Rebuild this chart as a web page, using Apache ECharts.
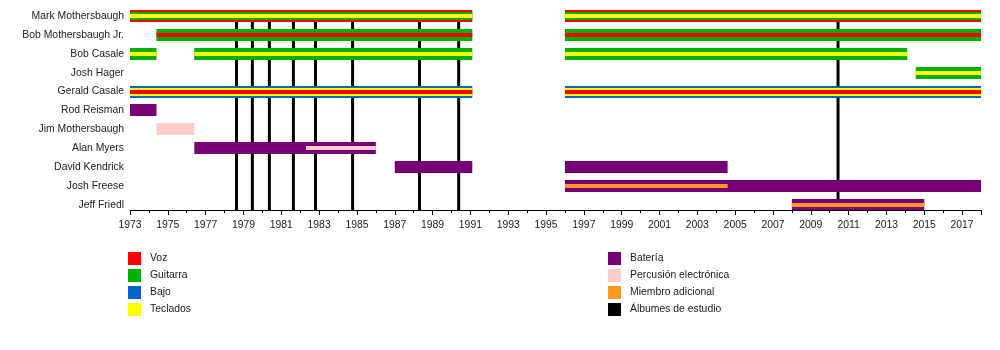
<!DOCTYPE html>
<html><head><meta charset="utf-8">
<script src="https://cdn.jsdelivr.net/npm/echarts@6/dist/echarts.min.js"></script>
<style>html,body{margin:0;padding:0;background:#fff}#c{width:1000px;height:350px}</style>
</head><body><div id="c"></div>
<script>
const members = ['Mark Mothersbaugh','Bob Mothersbaugh Jr.','Bob Casale','Josh Hager','Gerald Casale','Rod Reisman','Jim Mothersbaugh','Alan Myers','David Kendrick','Josh Freese','Jeff Friedl'];
const yearStart = 1973, yearEnd = 2018;
// [member, from, to, layer]  layer: 0 = main role, 1 = second, 2 = third
const voz = [
  ['Mark Mothersbaugh',1973,1991.1,0],['Mark Mothersbaugh',1996,2018,0],
  ['Bob Mothersbaugh Jr.',1974.4,1991.1,2],['Bob Mothersbaugh Jr.',1996,2018,2],
  ['Gerald Casale',1973,1991.1,2],['Gerald Casale',1996,2018,2]];
const guitarra = [
  ['Mark Mothersbaugh',1973,1991.1,1],['Mark Mothersbaugh',1996,2018,1],
  ['Bob Mothersbaugh Jr.',1974.4,1991.1,0],['Bob Mothersbaugh Jr.',1996,2018,0],
  ['Bob Casale',1973,1974.4,0],['Bob Casale',1976.4,1991.1,0],['Bob Casale',1996,2014.1,0],
  ['Josh Hager',2014.55,2018,0]];
const bajo = [['Gerald Casale',1973,1991.1,0],['Gerald Casale',1996,2018,0]];
const teclados = [
  ['Mark Mothersbaugh',1973,1991.1,2],['Mark Mothersbaugh',1996,2018,2],
  ['Bob Casale',1973,1974.4,2],['Bob Casale',1976.4,1991.1,2],['Bob Casale',1996,2014.1,2],
  ['Josh Hager',2014.55,2018,2],
  ['Gerald Casale',1973,1991.1,1],['Gerald Casale',1996,2018,1]];
const bateria = [
  ['Rod Reisman',1973,1974.4,0],['Alan Myers',1976.4,1986,0],
  ['David Kendrick',1987,1991.1,0],['David Kendrick',1996,2004.6,0],
  ['Josh Freese',1996,2018,0],['Jeff Friedl',2008,2015,0]];
const percusion = [['Jim Mothersbaugh',1974.4,1976.4,0],['Alan Myers',1982.3,1986,2]];
const adicional = [['Josh Freese',1996,2004.6,2],['Jeff Friedl',2008,2015,2]];
const albumes = [1978.63,1979.47,1980.37,1981.64,1982.81,1984.77,1988.31,1990.38,2010.44];

const roles = [
  {name:'Voz', data:voz, color:'#ff0000'},
  {name:'Guitarra', data:guitarra, color:'#00b000'},
  {name:'Bajo', data:bajo, color:'#0066cc'},
  {name:'Teclados', data:teclados, color:'#ffff00'},
  {name:'Batería', data:bateria, color:'#770077'},
  {name:'Percusión electrónica', data:percusion, color:'#ffcccc'},
  {name:'Miembro adicional', data:adicional, color:'#ff9922'}
];
const layerHeight = [12, 8, 4];
const yMax = 10.265;
const FONT = "'Liberation Sans', Arial, sans-serif";
const TXT = '#222';

function renderBar(params, api) {
  const row = api.value(0), x0 = api.value(1), x1 = api.value(2), layer = api.value(3);
  const p0 = api.coord([x0, row]);
  const p1 = api.coord([x1, row]);
  const h = layerHeight[layer];
  const cy = Math.round(p0[1]);
  return {type:'rect', z2: 10 + layer*10,
    shape:{x:p0[0], y:cy - h/2, width:p1[0]-p0[0], height:h},
    style:{fill: api.visual('color')}};
}
function renderAlbum(params, api) {
  const x = api.value(0);
  const p0 = api.coord([x, 0]);
  const p1 = api.coord([x, yMax]);
  return {type:'rect', z2: 0,
    shape:{x:p0[0]-1.5, y:p0[1], width:3, height:p1[1]-p0[1]},
    style:{fill: api.visual('color')}};
}

const series = roles.map(r => ({
  name: r.name, type:'custom', clip:true, renderItem: renderBar,
  itemStyle:{color:r.color},
  encode:{x:[1,2], y:0},
  data: r.data.map(d => [members.indexOf(d[0]), d[1]-yearStart, d[2]-yearStart, d[3]])
}));
series.unshift({
  name:'Álbumes de estudio', type:'custom', clip:true, renderItem: renderAlbum,
  itemStyle:{color:'#000'}, encode:{x:0, y:1}, z:1,
  data: albumes.map(a => [a - yearStart, 0])
});

const legendCommon = {orient:'vertical', top:252, itemWidth:13, itemHeight:13, itemGap:4,
  icon:'rect', selectedMode:false, padding:0,
  textStyle:{fontFamily:FONT, fontSize:10.4, color:TXT, padding:[0,0,0,4]}};

const chart = echarts.init(document.getElementById('c'), null, {renderer:'canvas'});
chart.setOption({
  animation:false,
  backgroundColor:'#fff',
  grid:{left:130, right:19, top:6.55, bottom:140},
  xAxis:{type:'value', min:0, max:yearEnd-yearStart, interval:2,
    axisLine:{onZero:false, lineStyle:{color:'#000', width:1}},
    axisTick:{length:5, lineStyle:{color:'#000'}},
    minorTick:{show:true, splitNumber:2, length:3, lineStyle:{color:'#000'}},
    splitLine:{show:false},
    axisLabel:{formatter:v => String(v + yearStart), showMaxLabel:false, margin:10,
      fontFamily:FONT, fontSize:10.4, color:TXT}},
  yAxis:{type:'value', inverse:true, min:-0.5, max:yMax,
    axisLine:{show:false, onZero:false}, axisTick:{show:false}, splitLine:{show:false},
    axisLabel:{customValues:members.map((m,i)=>i), formatter:v => members[v] || '',
      margin:6, fontFamily:FONT, fontSize:10.4, color:TXT}},
  legend:[
    Object.assign({left:128, data:['Voz','Guitarra','Bajo','Teclados']}, legendCommon),
    Object.assign({left:608, data:['Batería','Percusión electrónica','Miembro adicional','Álbumes de estudio']}, legendCommon)
  ],
  series: series
});
</script></body></html>
